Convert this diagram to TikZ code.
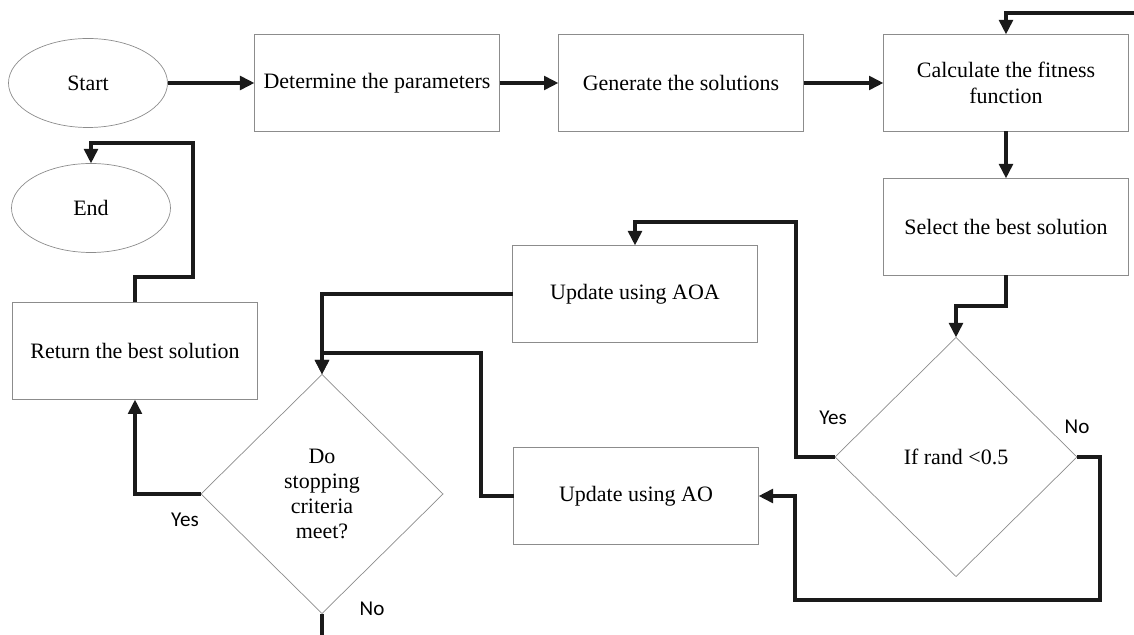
\documentclass[tikz,border=0pt]{standalone}
\usepackage{fontspec}
\setmainfont{Liberation Serif}
\newfontfamily\labelfont{Carlito}
\usetikzlibrary{arrows.meta,shapes.geometric}
\definecolor{edge}{HTML}{8C8C8C}
\definecolor{ink}{HTML}{1A1A1A}

\begin{document}
\begin{tikzpicture}[x=0.2mm,y=-0.2mm,font=\fontsize{12.5}{15}\selectfont,
  box/.style={draw=edge,thin,align=center,minimum width=49mm,minimum height=19.4mm,
    inner sep=2pt,outer sep=0pt},
  term/.style={draw=edge,thin,ellipse,minimum width=31.8mm,minimum height=17.8mm,outer sep=0pt},
  cond/.style={draw=edge,thin,diamond,align=center,minimum width=48.4mm,minimum height=47.8mm,
    inner sep=0pt,outer sep=0pt,font=\fontsize{12.5}{14.2}\selectfont},
  link/.style={draw=ink,line width=0.8mm},
  arr/.style={link,-{Triangle[length=2.9mm,width=2.7mm]}},
  lbl/.style={font=\labelfont\fontsize{12}{14}\selectfont}]
  \useasboundingbox (0,0) rectangle (1134,635);
  % top row
  \node[term] (start) at (88,83) {Start};
  \node[box] (param) at (377,83) {Determine the parameters};
  \node[box] (gen) at (681,83) {Generate the solutions};
  \node[box] (fit) at (1006,83) {Calculate the fitness\\function};
  \node[box] (best) at (1006,227) {Select the best solution};
  % middle
  \node[cond] (rnd) at (956,457) {If rand <0.5};
  \node[box] (aoa) at (635,294) {Update using AOA};
  \node[box] (ao) at (636,496) {Update using AO};
  \node[cond] (stop) at (322,494) {Do\\stopping\\criteria\\meet?};
  % left
  \node[box] (ret) at (135,351) {Return the best solution};
  \node[term] (end) at (91,208) {End};
  % branch labels
  \node[lbl] (yesr) at (833,418) {Yes};
  \node[lbl] (nor) at (1077,427) {No};
  \node[lbl] (yess) at (185,520) {Yes};
  \node[lbl] (nos) at (372,609) {No};
  \coordinate (loopin) at (1134,13);
  \coordinate (nout) at (322,640);
  % connectors
  \draw[arr] (start) -- (param);
  \draw[arr] (param) -- (gen);
  \draw[arr] (gen) -- (fit);
  \draw[arr] (loopin) -| (fit.north);
  \draw[arr] (fit) -- (best);
  \draw[arr] (best.south) -- ++(0,31) -| (rnd.north);
  \draw[arr] (rnd.west) -- ++(-39,0) -- ++(0,-235) -| (aoa.north);
  \draw[arr] (rnd.east) -- ++(23,0) -- ++(0,143) -- ++(-305,0) |- (ao.east);
  \draw[arr] (aoa.west) -| (stop.north);
  \draw[arr] (ao.west) -- ++(-33,0) -- ++(0,-143) -| (stop.north);
  \draw[arr] (stop.west) -| (ret.south);
  \draw[arr] (ret.north) -- ++(0,-25) -- ++(58,0) -- ++(0,-134) -| (end.north);
  \draw[link] (stop.south) -- (nout);
\end{tikzpicture}
\end{document}
